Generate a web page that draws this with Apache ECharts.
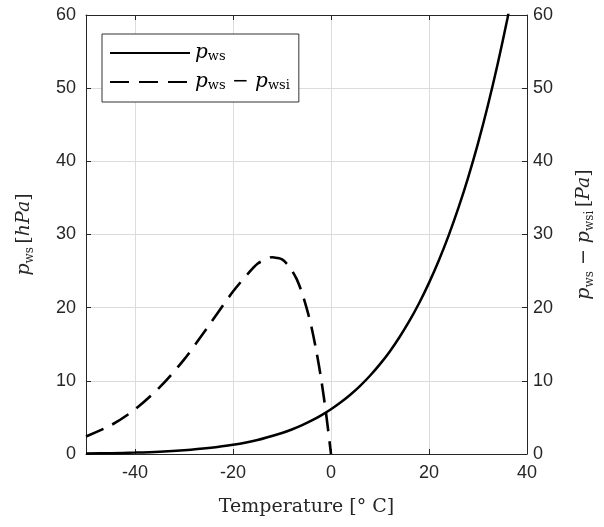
<!DOCTYPE html>
<html><head><meta charset="utf-8">
<script src="https://cdn.jsdelivr.net/npm/echarts@6/dist/echarts.min.js"></script>
<style>html,body{margin:0;padding:0;background:#fff}#c{width:604px;height:527px}</style>
</head><body><div id="c"></div>
<script>
// Saturation vapour pressure over water, hPa
const tempWs = [-50,-45,-40,-35,-30,-25,-20,-15,-10,-8,-6,-4,-2,0,2,4,6,8,10,12,14,16,18,20,22,24,26,28,30,32,34,36,38];
const pWs    = [0.064,0.111,0.19,0.31,0.51,0.81,1.25,1.91,2.87,3.35,3.91,4.55,5.28,6.11,7.06,8.13,9.35,10.73,12.28,14.02,15.99,18.18,20.64,23.39,26.45,29.85,33.63,37.82,42.46,47.59,53.26,59.5,66.3];
// Difference water - ice, Pa
const tempDiff = [-50,-45,-40,-35,-30,-25,-20,-17,-15,-13,-12,-11,-10,-9,-8,-7,-6,-5,-4,-3,-2,-1,0];
const pDiff    = [2.4,3.9,6.1,9.1,12.9,17.5,22.2,24.6,26.0,26.7,26.9,26.8,26.6,26.0,25.1,23.9,22.2,20.0,17.4,14.1,10.2,5.5,0];
const xTicks = [-40,-20,0,20,40];
const yTicks = [0,10,20,30,40,50,60];

const axisCol = '#262626';
const serif = 'DejaVu Serif';
const nameRich = {
  i:{fontFamily:serif,fontStyle:'italic',fontSize:19,color:axisCol,lineHeight:24},
  s:{fontFamily:serif,fontSize:12,color:axisCol,lineHeight:12,verticalAlign:'bottom'},
  n:{fontFamily:serif,fontSize:19,color:axisCol,lineHeight:24}
};
const legRich = {
  i:{fontFamily:serif,fontStyle:'italic',fontSize:20,color:'#000',lineHeight:20},
  s:{fontFamily:serif,fontSize:13,color:'#000',lineHeight:10,verticalAlign:'bottom'},
  n:{fontFamily:serif,fontSize:20,color:'#000',lineHeight:20}
};
const lbl = {fontFamily:'Liberation Sans',fontSize:18,color:axisCol};

const chart = echarts.init(document.getElementById('c'),null,{renderer:'canvas'});
const xCommon = {type:'value',min:-50,max:40,
  axisLine:{show:true,onZero:false,lineStyle:{color:axisCol,width:1}},
  axisTick:{show:true,inside:true,length:5,customValues:xTicks,lineStyle:{color:axisCol}},
  splitLine:{show:false}};
chart.setOption({
  animation:false,
  backgroundColor:'#fff',
  grid:{left:86,right:75,top:15,bottom:73,containLabel:false},
  legend:{
    left:102, top:34, orient:'vertical', itemWidth:80, itemHeight:20, itemGap:9,
    padding:[9,9,10,7], borderColor:'#333', borderWidth:1, backgroundColor:'#fff',
    itemStyle:{opacity:0},
    data:['ws','diff'],
    formatter:function(n){return n==='ws' ? '{i|p}{s|ws}' : '{i|p}{s|ws}{n| − }{i|p}{s|wsi}';},
    textStyle:{rich:legRich}
  },
  xAxis:[
    Object.assign({}, xCommon, {position:'bottom',
      axisLabel:{show:true,customValues:xTicks,margin:10,...lbl},
      splitLine:{show:true,lineStyle:{color:'#dcdcdc',width:1}},
      name:'Temperature [° C]', nameLocation:'middle', nameGap:44,
      nameTextStyle:{fontFamily:serif,fontSize:19,color:axisCol}}),
    Object.assign({}, xCommon, {position:'top',axisLabel:{show:false}})
  ],
  yAxis:[
    {type:'value',min:0,max:60,interval:10,position:'left',
     axisLine:{show:true,onZero:false,lineStyle:{color:axisCol}},
     axisTick:{show:true,inside:true,length:5,lineStyle:{color:axisCol}},
     axisLabel:{margin:10,...lbl},
     splitLine:{show:true,lineStyle:{color:'#dcdcdc'}},
     name:'{i|p}{s|ws} {n|[}{i|hPa}{n|]}', nameLocation:'middle', nameGap:50,
     nameTextStyle:{rich:nameRich}},
    {type:'value',min:0,max:60,interval:10,position:'right',
     axisLine:{show:true,onZero:false,lineStyle:{color:axisCol}},
     axisTick:{show:true,inside:true,length:5,lineStyle:{color:axisCol}},
     axisLabel:{margin:6,...lbl},
     splitLine:{show:false},
     name:'{i|p}{s|ws}{n| − }{i|p}{s|wsi} {n|[}{i|Pa}{n|]}', nameLocation:'middle', nameGap:45,
     nameTextStyle:{rich:nameRich}}
  ],
  series:[
    {name:'ws',type:'line',xAxisIndex:0,yAxisIndex:0,smooth:0.3,symbol:'none',clip:true,
     data:tempWs.map((t,i)=>[t,pWs[i]]),
     lineStyle:{color:'#000',width:2.5,type:'solid'},itemStyle:{color:'#000'}},
    {name:'diff',type:'line',xAxisIndex:0,yAxisIndex:1,smooth:0.3,symbol:'none',clip:true,
     data:tempDiff.map((t,i)=>[t,pDiff[i]]),
     lineStyle:{color:'#000',width:2.6,type:[19,10]},itemStyle:{color:'#000'}}
  ]
});
</script></body></html>
